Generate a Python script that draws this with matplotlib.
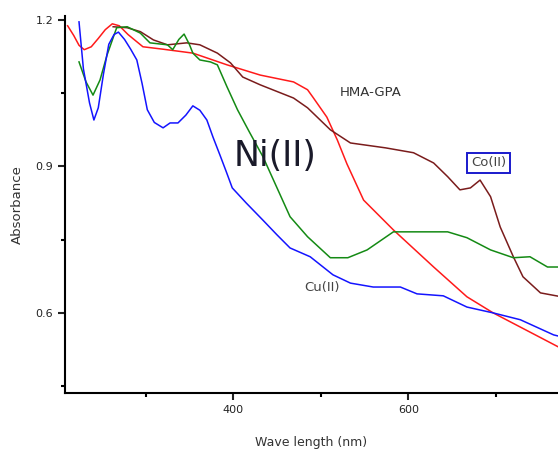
import matplotlib
matplotlib.use("Agg")
import matplotlib.pyplot as plt
from matplotlib.ticker import FixedLocator

cu_x = [224, 229, 236, 241, 246, 252, 258, 264, 269, 276, 283, 290, 296, 302, 310, 320, 328, 337,
        346, 354, 362, 370, 377, 385, 392, 399, 415, 434, 450, 465, 488, 514, 534, 560, 591, 610,
        640, 667, 697, 728, 766, 775]
cu_y = [1.196, 1.10, 1.03, 0.995, 1.02, 1.09, 1.15, 1.17, 1.175, 1.16, 1.14, 1.118, 1.07, 1.016,
        0.99, 0.979, 0.989, 0.989, 1.005, 1.024, 1.015, 0.995, 0.96, 0.923, 0.89, 0.856, 0.825,
        0.790, 0.76, 0.733, 0.715, 0.678, 0.661, 0.653, 0.653, 0.639, 0.635, 0.612, 0.600, 0.586,
        0.555, 0.551]

hma_x = [211, 218, 224, 230, 238, 246, 254, 262, 270, 280, 297, 320, 354, 393, 431, 469, 485, 491,
         507, 519, 530, 549, 583, 629, 667, 697, 728, 775]
hma_y = [1.188, 1.168, 1.148, 1.139, 1.145, 1.162, 1.180, 1.192, 1.188, 1.170, 1.145, 1.140, 1.132,
         1.108, 1.087, 1.073, 1.057, 1.042, 1.001, 0.954, 0.905, 0.831, 0.770, 0.694, 0.633, 0.600,
         0.571, 0.527]

ni_x = [224, 232, 240, 248, 256, 267, 279, 294, 305, 325, 331, 338, 344, 350, 354, 362, 374, 382,
        393, 405, 419, 434, 465, 485, 511, 531, 553, 583, 645, 667, 694, 720, 739, 759, 775]
ni_y = [1.114, 1.073, 1.046, 1.077, 1.128, 1.184, 1.186, 1.173, 1.153, 1.149, 1.139, 1.160, 1.171,
        1.150, 1.132, 1.118, 1.114, 1.108, 1.063, 1.016, 0.969, 0.920, 0.797, 0.756, 0.713, 0.713,
        0.729, 0.766, 0.766, 0.754, 0.729, 0.713, 0.715, 0.694, 0.694]

co_x = [263, 279, 294, 309, 325, 347, 362, 382, 397, 411, 431, 469, 485, 511, 534, 574, 606, 629,
        645, 659, 671, 682, 694, 705, 720, 731, 751, 775]
co_y = [1.186, 1.184, 1.176, 1.159, 1.149, 1.153, 1.149, 1.132, 1.112, 1.083, 1.067, 1.040, 1.020,
        0.975, 0.948, 0.938, 0.928, 0.907, 0.879, 0.852, 0.856, 0.872, 0.838, 0.776, 0.715, 0.674,
        0.641, 0.633]

fig = plt.figure(figsize=(5.58, 4.5), dpi=100)
ax = fig.add_axes([65/558, 57/450, 493/558, 377/450])

ax.plot(hma_x, hma_y, color="#ff1a1a", lw=1.1)
ax.plot(co_x, co_y, color="#7a1c1c", lw=1.1)
ax.plot(ni_x, ni_y, color="#148a14", lw=1.1)
ax.plot(cu_x, cu_y, color="#1414ff", lw=1.1)

ax.set_xlim(208, 771)
ax.set_ylim(0.436, 1.208)

for s in ["top", "right"]:
    ax.spines[s].set_visible(False)
for s in ["left", "bottom"]:
    ax.spines[s].set_linewidth(1.5)

ax.xaxis.set_major_locator(FixedLocator([400, 600]))
ax.xaxis.set_minor_locator(FixedLocator([300, 500, 700]))
ax.yaxis.set_major_locator(FixedLocator([0.6, 0.9, 1.2]))
ax.yaxis.set_minor_locator(FixedLocator([0.45, 0.75, 1.05]))
ax.set_xticklabels(["400", "600"])
ax.set_yticklabels(["0.6", "0.9", "1.2"])
ax.tick_params(which="major", direction="out", length=5, width=1.5, labelsize=8, colors="#222222")
ax.tick_params(which="minor", direction="out", length=3, width=1.5)

ax.set_xlabel("Wave length (nm)", fontsize=9, color="#333333", labelpad=15)
ax.set_ylabel("Absorbance", fontsize=9.5, color="#333333", labelpad=8)

ax.text(557, 1.051, "HMA-GPA", fontsize=9.5, color="#333333", ha="center", va="center")
ax.text(448, 0.922, "Ni(II)", fontsize=25, color="#1a1a2a", ha="center", va="center")
ax.text(502, 0.653, "Cu(II)", fontsize=9.5, color="#444444", ha="center", va="center")
ax.text(692, 0.907, "Co(II)", fontsize=9.5, color="#444444", ha="center", va="center",
        bbox=dict(boxstyle="square,pad=0.3", fc="white", ec="#1a1acc", lw=1.4))

fig.savefig("out.png", dpi=100)
